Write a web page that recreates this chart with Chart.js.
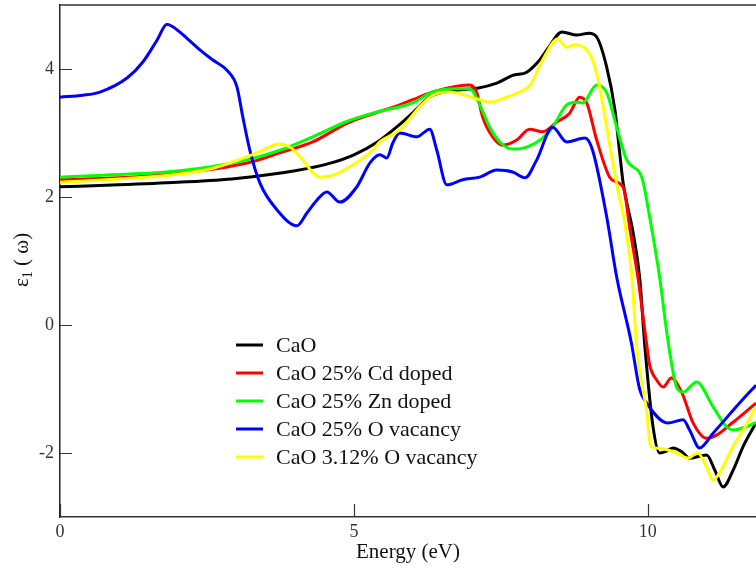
<!DOCTYPE html>
<html lang="en">
<head>
    <meta charset="UTF-8">
    <title>CaO dielectric function</title>
    <style>
        body {
            margin: 0;
            background-color: #ffffff;
        }

        .chart-container {
            position: relative;
            width: 756px;
            height: 569px;
        }
    </style>
    <script src="https://cdn.jsdelivr.net/npm/chart.js"></script>
</head>
<body>
    <div class="chart-container">
        <canvas id="epsChart" width="756" height="569"></canvas>
    </div>

    <script>
        // Real part of the dielectric function, eps1(omega), vs. photon energy (eV)
        const seriesLabels = ['CaO', 'CaO 25% Cd doped', 'CaO 25% Zn doped', 'CaO 25% O vacancy', 'CaO 3.12% O vacancy'];
        const seriesColors = ['#000000', '#ff0000', '#00ff00', '#0000ff', '#ffff00'];

        const xTicks = [0, 5, 10];
        const yTicks = [-2, 0, 2, 4];

        const energyCaO = [0, 1, 2, 3, 4, 4.6, 5, 5.4, 5.8, 6.1, 6.3, 6.75, 7.1, 7.43, 7.7, 7.94, 8.16, 8.3, 8.54, 8.79, 9.0, 9.13, 9.3, 9.44, 9.52, 9.58, 9.75, 9.86, 9.95, 10.09, 10.2, 10.32, 10.43, 10.58, 10.71, 10.88, 11.0, 11.14, 11.28, 11.45, 11.62, 11.84];
        const epsCaO    = [2.16, 2.19, 2.23, 2.29, 2.41, 2.53, 2.66, 2.86, 3.15, 3.4, 3.57, 3.67, 3.70, 3.78, 3.9, 3.95, 4.14, 4.32, 4.58, 4.53, 4.56, 4.5, 4.03, 3.36, 2.7, 2.22, 1.44, 0.75, -0.34, -1.6, -2.0, -1.97, -1.92, -1.98, -2.08, -2.05, -2.03, -2.27, -2.53, -2.27, -1.9, -1.53];

        const energyCd = [0, 1, 2.04, 3.18, 3.74, 4.3, 4.88, 5.32, 5.78, 6.0, 6.34, 6.75, 6.97, 7.09, 7.19, 7.36, 7.53, 7.77, 7.99, 8.21, 8.45, 8.67, 8.84, 8.96, 9.13, 9.35, 9.5, 9.6, 9.69, 9.83, 9.98, 10.03, 10.15, 10.26, 10.4, 10.58, 10.77, 11.0, 11.17, 11.45, 11.84];
        const epsCd    = [2.27, 2.30, 2.37, 2.53, 2.69, 2.86, 3.15, 3.3, 3.44, 3.52, 3.64, 3.73, 3.75, 3.63, 3.25, 2.94, 2.81, 2.89, 3.06, 3.02, 3.17, 3.31, 3.56, 3.47, 2.89, 2.31, 2.22, 2.1, 1.53, 0.75, -0.3, -0.62, -0.86, -0.97, -0.83, -1.06, -1.53, -1.77, -1.72, -1.52, -1.22];

        const energyZn = [0, 1, 2.04, 3.18, 3.74, 4.3, 4.88, 5.4, 6.0, 6.34, 6.75, 6.97, 7.14, 7.31, 7.48, 7.7, 7.94, 8.21, 8.38, 8.62, 8.79, 8.89, 9.13, 9.3, 9.47, 9.64, 9.86, 9.91, 10.03, 10.2, 10.34, 10.49, 10.6, 10.83, 11.11, 11.34, 11.45, 11.68, 11.84];
        const epsZn    = [2.31, 2.35, 2.41, 2.58, 2.73, 2.94, 3.18, 3.33, 3.47, 3.64, 3.69, 3.69, 3.44, 3.09, 2.86, 2.75, 2.78, 2.92, 3.09, 3.44, 3.48, 3.47, 3.75, 3.63, 3.09, 2.58, 2.38, 2.27, 1.69, 0.75, -0.23, -0.97, -1.05, -0.89, -1.28, -1.59, -1.64, -1.59, -1.52];

        const energyOVac25 = [0, 0.39, 0.68, 1.14, 1.41, 1.65, 1.82, 1.92, 2.16, 2.38, 2.6, 2.84, 3.01, 3.11, 3.23, 3.4, 3.69, 4.03, 4.2, 4.37, 4.54, 4.76, 5.05, 5.27, 5.44, 5.56, 5.66, 5.78, 6.07, 6.29, 6.41, 6.58, 6.85, 7.14, 7.43, 7.7, 7.91, 8.11, 8.38, 8.62, 8.93, 9.06, 9.3, 9.47, 9.72, 9.86, 9.98, 10.34, 10.6, 10.71, 10.88, 11.11, 11.56, 11.84];
        const epsOVac25    = [3.56, 3.59, 3.64, 3.86, 4.11, 4.45, 4.7, 4.66, 4.48, 4.3, 4.14, 3.98, 3.72, 3.25, 2.73, 2.22, 1.8, 1.55, 1.75, 1.95, 2.08, 1.92, 2.16, 2.53, 2.66, 2.61, 2.84, 3.0, 2.94, 3.06, 2.73, 2.19, 2.27, 2.31, 2.42, 2.39, 2.3, 2.58, 3.09, 2.86, 2.92, 2.73, 1.69, 0.75, -0.28, -1.0, -1.22, -1.53, -1.48, -1.64, -1.92, -1.69, -1.22, -0.94];

        const energyOVac3 = [0, 1, 2.04, 2.6, 3.18, 3.45, 3.71, 3.91, 4.13, 4.3, 4.42, 4.64, 4.98, 5.32, 5.44, 5.78, 6.12, 6.34, 6.63, 6.92, 7.14, 7.31, 7.6, 7.82, 8.0, 8.21, 8.47, 8.62, 8.76, 8.96, 9.06, 9.18, 9.3, 9.49, 9.61, 9.73, 9.81, 9.98, 10.05, 10.2, 10.49, 10.68, 10.85, 11.0, 11.11, 11.22, 11.45, 11.68, 11.84];
        const epsOVac3    = [2.23, 2.28, 2.36, 2.45, 2.63, 2.73, 2.83, 2.78, 2.58, 2.38, 2.31, 2.34, 2.5, 2.73, 2.86, 3.05, 3.41, 3.59, 3.64, 3.58, 3.52, 3.48, 3.56, 3.64, 3.75, 4.14, 4.47, 4.34, 4.38, 4.3, 4.14, 3.72, 3.09, 2.11, 1.59, 0.75, -0.34, -1.35, -1.9, -1.93, -2.0, -2.08, -2.0, -2.22, -2.42, -2.31, -1.9, -1.55, -1.28];

        const energies = [energyCaO, energyCd, energyZn, energyOVac25, energyOVac3];
        const epsValues = [epsCaO, epsCd, epsZn, epsOVac25, epsOVac3];

        function toPoints(xs, ys) {
            return xs.map((x, i) => ({ x: x, y: ys[i] }));
        }

        const serif = '"Liberation Serif", "Times New Roman", serif';

        // frame, inward ticks, y title with subscript and the legend inside the plot
        const graceDecor = {
            id: 'graceDecor',
            afterDraw(chart, args, opts) {
                const ctx = chart.ctx;
                const area = chart.chartArea;
                const xs = chart.scales.x;
                const ys = chart.scales.y;

                ctx.save();
                ctx.strokeStyle = '#333';
                ctx.lineWidth = 1.5;
                ctx.beginPath();
                ctx.moveTo(area.left, area.top);
                ctx.lineTo(area.right, area.top);
                ctx.stroke();

                ctx.lineWidth = 1.2;
                ctx.beginPath();
                xTicks.forEach(v => {
                    const px = Math.round(xs.getPixelForValue(v)) + 0.5;
                    ctx.moveTo(px, area.bottom);
                    ctx.lineTo(px, area.bottom - 13);
                });
                yTicks.forEach(v => {
                    const py = Math.round(ys.getPixelForValue(v)) + 0.5;
                    ctx.moveTo(area.left, py);
                    ctx.lineTo(area.left + 12, py);
                });
                ctx.stroke();

                // y title: eps_1 ( omega )
                ctx.translate(opts.yTitleX, opts.yTitleY);
                ctx.rotate(-Math.PI / 2);
                ctx.fillStyle = '#111';
                ctx.textBaseline = 'alphabetic';
                ctx.textAlign = 'left';
                ctx.font = '21px ' + serif;
                ctx.fillText('ε', 0, 0);
                let w = ctx.measureText('ε').width;
                ctx.font = '14px ' + serif;
                ctx.fillText('1', w, 4);
                w += ctx.measureText('1').width;
                ctx.font = '21px ' + serif;
                ctx.fillText(' ( ω)', w, 0);
                ctx.restore();

                // legend
                ctx.save();
                ctx.font = '22px ' + serif;
                ctx.textBaseline = 'middle';
                ctx.textAlign = 'left';
                chart.data.datasets.forEach((ds, i) => {
                    const y = opts.legendY + i * opts.legendGap;
                    ctx.strokeStyle = ds.borderColor;
                    ctx.lineWidth = 3;
                    ctx.beginPath();
                    ctx.moveTo(opts.legendX, y);
                    ctx.lineTo(opts.legendX + 27, y);
                    ctx.stroke();
                    ctx.fillStyle = '#111';
                    ctx.fillText(ds.label, opts.legendX + 40, y + 1);
                });
                ctx.restore();
            }
        };

        const datasets = seriesLabels.map((label, i) => ({
            label: label,
            data: toPoints(energies[i], epsValues[i]),
            borderColor: seriesColors[i],
            backgroundColor: seriesColors[i],
            borderWidth: 3,
            pointRadius: 0,
            cubicInterpolationMode: 'monotone',
            fill: false,
            // later series are painted over earlier ones
            order: seriesLabels.length - 1 - i
        }));

        const ctxEps = document.getElementById('epsChart').getContext('2d');
        const epsChart = new Chart(ctxEps, {
            type: 'line',
            data: { datasets: datasets },
            options: {
                responsive: false,
                animation: false,
                layout: { padding: { top: 5, right: 0, left: 0, bottom: 0 } },
                plugins: {
                    legend: { display: false },
                    tooltip: { enabled: false },
                    graceDecor: {
                        yTitleX: 28,
                        yTitleY: 287,
                        legendX: 236,
                        legendY: 345,
                        legendGap: 28
                    }
                },
                scales: {
                    x: {
                        type: 'linear',
                        min: 0,
                        max: 11.84,
                        grid: { display: false, drawTicks: false },
                        border: { display: true, color: '#333', width: 1.5 },
                        afterBuildTicks: scale => { scale.ticks = xTicks.map(v => ({ value: v })); },
                        afterFit: scale => { scale.height = 52; },
                        ticks: {
                            color: '#333',
                            padding: 4,
                            maxRotation: 0,
                            font: { family: serif, size: 18 }
                        },
                        title: {
                            display: true,
                            text: 'Energy (eV)',
                            color: '#111',
                            font: { family: serif, size: 21 },
                            padding: { top: 0, bottom: 4 }
                        }
                    },
                    y: {
                        min: -3,
                        max: 5,
                        grid: { display: false, drawTicks: false },
                        border: { display: true, color: '#222', width: 1.5 },
                        afterBuildTicks: scale => { scale.ticks = yTicks.map(v => ({ value: v })); },
                        afterFit: scale => {
                            scale.width = 60;
                            scale.paddingTop = 0;
                            scale.paddingBottom = 0;
                        },
                        ticks: {
                            color: '#333',
                            padding: 6,
                            font: { family: serif, size: 18 }
                        }
                    }
                }
            },
            plugins: [graceDecor]
        });
    </script>
</body>
</html>
